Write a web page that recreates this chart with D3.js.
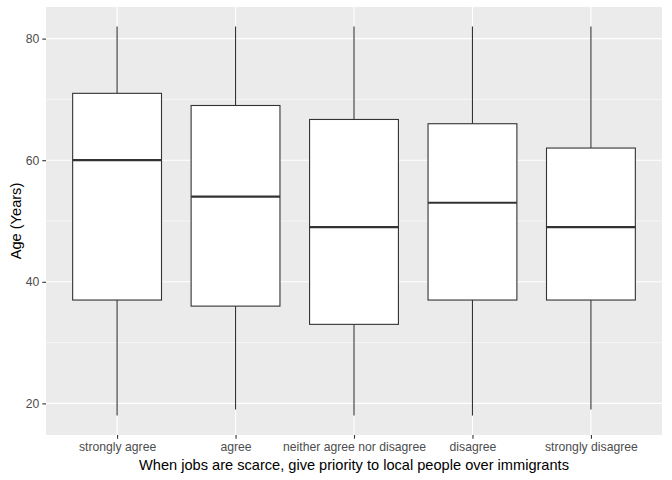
<!DOCTYPE html>
<html><head><meta charset="utf-8">
<script src="https://cdn.jsdelivr.net/npm/d3@7"></script>
<style>body{margin:0;background:#fff}svg{display:block}</style>
</head><body>
<script>
const categories = ["strongly agree","agree","neither agree nor disagree","disagree","strongly disagree"];
const whiskerLow = [18,19,18,18,19];
const q1 = [37,36,33,37,37];
const medians = [60,54,49,53,49];
const q3 = [71,69,66.7,66,62];
const whiskerHigh = [82,82,82,82,82];
const yTicks = [20,40,60,80];
const yMinor = [30,50,70];
const xTitle = "When jobs are scarce, give priority to local people over immigrants";
const yTitle = "Age (Years)";

const W=672,H=480;
const m={left:46,right:10,top:7,bottom:45};
const svg=d3.select("body").append("svg").attr("width",W).attr("height",H);
const pw=W-m.left-m.right, ph=H-m.top-m.bottom;
const g=svg.append("g").attr("transform",`translate(${m.left},${m.top})`);
const unit=pw/5.2;
const xc=i=>unit*(0.6+i);
const y=d3.scaleLinear().domain([18-3.2,82+3.2]).range([ph,0]);
const font="Liberation Sans, Arial, sans-serif";
g.append("rect").attr("width",pw).attr("height",ph).attr("fill","#EBEBEB");
g.selectAll(".minor").data(yMinor).join("line").attr("x1",0).attr("x2",pw)
 .attr("y1",d=>y(d)).attr("y2",d=>y(d)).attr("stroke","#fff").attr("stroke-width",0.55);
g.selectAll(".major").data(yTicks).join("line").attr("x1",0).attr("x2",pw)
 .attr("y1",d=>y(d)).attr("y2",d=>y(d)).attr("stroke","#fff").attr("stroke-width",1.1);
g.selectAll(".vmajor").data(categories).join("line").attr("x1",(d,i)=>xc(i)).attr("x2",(d,i)=>xc(i))
 .attr("y1",0).attr("y2",ph).attr("stroke","#fff").attr("stroke-width",1.1);
const bw=unit*0.75;
const boxes=g.selectAll(".box").data(categories).join("g");
boxes.append("line").attr("x1",(d,i)=>xc(i)).attr("x2",(d,i)=>xc(i))
 .attr("y1",(d,i)=>y(whiskerHigh[i])).attr("y2",(d,i)=>y(q3[i])).attr("stroke","#333").attr("stroke-width",1.1);
boxes.append("line").attr("x1",(d,i)=>xc(i)).attr("x2",(d,i)=>xc(i))
 .attr("y1",(d,i)=>y(q1[i])).attr("y2",(d,i)=>y(whiskerLow[i])).attr("stroke","#333").attr("stroke-width",1.1);
boxes.append("rect").attr("x",(d,i)=>xc(i)-bw/2).attr("width",bw)
 .attr("y",(d,i)=>y(q3[i])).attr("height",(d,i)=>y(q1[i])-y(q3[i]))
 .attr("fill","#fff").attr("stroke","#333").attr("stroke-width",1.1);
boxes.append("line").attr("x1",(d,i)=>xc(i)-bw/2).attr("x2",(d,i)=>xc(i)+bw/2)
 .attr("y1",(d,i)=>y(medians[i])).attr("y2",(d,i)=>y(medians[i])).attr("stroke","#333").attr("stroke-width",2.2);
const ya=g.append("g").call(d3.axisLeft(y).tickValues(yTicks).tickSize(3.7).tickPadding(3));
ya.select(".domain").remove();
ya.selectAll("line").attr("stroke","#333").attr("stroke-width",1.1);
ya.selectAll("text").attr("fill","#4D4D4D").style("font-family",font).style("font-size","12.2px");
const xa=g.append("g").attr("transform",`translate(0,${ph})`)
 .call(d3.axisBottom(d3.scalePoint().domain(categories).range([xc(0),xc(4)])).tickSize(3.7).tickPadding(4));
xa.select(".domain").remove();
xa.selectAll("line").attr("stroke","#333").attr("stroke-width",1.1);
xa.selectAll("text").attr("fill","#4D4D4D").style("font-family",font).style("font-size","12.2px");
svg.append("text").attr("x",m.left+pw/2).attr("y",470).attr("text-anchor","middle")
 .style("font-family",font).style("font-size","14.6px").attr("fill","#000").text(xTitle);
svg.append("text").attr("transform",`translate(21,${m.top+ph/2}) rotate(-90)`).attr("text-anchor","middle")
 .style("font-family",font).style("font-size","14.6px").attr("fill","#000").text(yTitle);
</script>
</body></html>
